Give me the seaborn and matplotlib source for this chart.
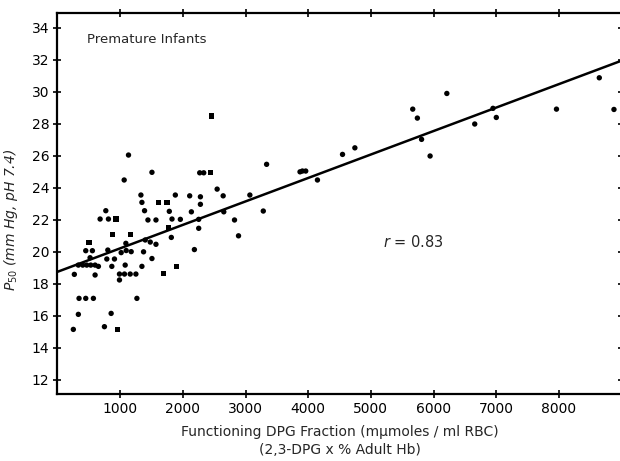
import matplotlib
matplotlib.use("Agg")
import matplotlib.pyplot as plt
import seaborn as sns
import pandas as pd

# ---- data ----
dpg = [1133, 1507, 1064, 1331, 1880, 1347, 1613, 1747, 771, 1389, 1784,
       680, 813, 936, 1443, 1571, 1827, 1960, 1768,
       877, 1160, 504, 1816, 1571, 1091, 1400, 1480, 451, 557, 803,
       1016, 1096, 1176, 1373, 520, 787, 909, 1507,
       333, 403, 467, 531, 600, 653, 867, 1080, 1347, 1896,
       269, 600, 989, 1069, 1160, 1251, 989, 1693,
       344, 451, 573, 1267, 333, 856, 253, 749, 957,
       2456, 2269, 2333, 2440, 3336, 3869, 2547, 2109, 2280, 2643, 3069,
       2280, 2136, 2653, 3283, 2253, 2253, 2824, 2888, 2184,
       5667, 5741, 6656, 5808, 5944, 4744, 4547, 3907, 3960, 4147,
       6211, 8643, 7000, 6947, 7960, 8877]
p50 = [26.04, 24.96, 24.48, 23.54, 23.54, 23.08, 23.08, 23.08, 22.56, 22.56, 22.52,
       22.04, 22.04, 22.04, 21.98, 21.98, 22.04, 22.02, 21.51,
       21.08, 21.08, 20.58, 20.89, 20.46, 20.52, 20.73, 20.60, 20.06, 20.06, 20.10,
       19.94, 20.07, 20.00, 19.99, 19.62, 19.54, 19.54, 19.57,
       19.16, 19.16, 19.16, 19.16, 19.16, 19.08, 19.08, 19.16, 19.08, 19.06,
       18.58, 18.54, 18.60, 18.60, 18.60, 18.60, 18.23, 18.64,
       17.08, 17.08, 17.08, 17.08, 16.08, 16.14, 15.14, 15.31, 15.14,
       28.49, 24.93, 24.93, 24.93, 25.46, 24.99, 23.91, 23.49, 23.43, 23.49, 23.54,
       22.96, 22.49, 22.49, 22.54, 22.02, 21.46, 21.98, 20.99, 20.13,
       28.91, 28.35, 27.98, 27.02, 25.98, 26.49, 26.08, 25.04, 25.04, 24.48,
       29.89, 30.87, 28.39, 28.96, 28.91, 28.89]
shape = ["c", "c", "c", "c", "c", "c", "s", "s", "c", "c", "c",
         "c", "c", "s", "c", "c", "c", "c", "s",
         "s", "s", "s", "c", "c", "c", "c", "c", "c", "c", "c",
         "c", "c", "c", "c", "c", "c", "c", "c",
         "c", "c", "c", "c", "c", "c", "c", "c", "c", "s",
         "c", "c", "c", "c", "c", "c", "c", "s",
         "c", "c", "c", "c", "c", "c", "c", "c", "s",
         "s", "c", "c", "s", "c", "c", "c", "c", "c", "c", "c",
         "c", "c", "c", "c", "c", "c", "c", "c", "c",
         "c", "c", "c", "c", "c", "c", "c", "c", "c", "c",
         "c", "c", "c", "c", "c", "c"]

fit_intercept = 18.74
fit_slope = 0.001467
line_x = [0, 9000]
line_y = [fit_intercept + fit_slope * v for v in line_x]

x_ticks = [1000, 2000, 3000, 4000, 5000, 6000, 7000, 8000]
y_ticks = [12, 14, 16, 18, 20, 22, 24, 26, 28, 30, 32, 34]

df = pd.DataFrame({"dpg": dpg, "p50": p50, "shape": shape})

sns.set_style("ticks")
plt.rcParams["font.family"] = ["DejaVu Sans"]

fig = plt.figure(figsize=(6.2, 4.61), dpi=100)
ax = fig.add_axes([0.0927, 0.1453, 0.9100, 0.8258])

sns.scatterplot(data=df, x="dpg", y="p50", style="shape",
                markers={"c": "o", "s": "s"}, color="black", s=15,
                linewidth=0, legend=False, ax=ax)
sns.lineplot(x=line_x, y=line_y, color="black", linewidth=1.8, ax=ax)

ax.set_xlim(0, 9000)
ax.set_ylim(11.1, 34.9)
ax.set_xticks(x_ticks)
ax.set_xticklabels([str(v) for v in x_ticks])
ax.set_yticks(y_ticks)
ax.set_yticklabels([str(v) for v in y_ticks])
ax.tick_params(direction="inout", length=6, width=1.2, top=True, right=True,
               labelsize=10, colors="black", pad=3)
for sp in ax.spines.values():
    sp.set_visible(True)
    sp.set_linewidth(1.6)
    sp.set_color("black")

ax.set_xlabel("Functioning DPG Fraction (m\u03bcmoles / ml RBC)\n(2,3-DPG x % Adult Hb)",
              fontsize=10, linespacing=1.4, labelpad=6)
ax.set_ylabel(r"$P_{50}$ (mm Hg, pH 7.4)", fontsize=10, style="italic")
ax.yaxis.set_label_coords(-0.067, 0.457)

ax.text(0.053, 0.93, "Premature Infants", transform=ax.transAxes,
        fontsize=9.5, ha="left", va="center")
ax.text(5200, 20.6, r"$r$ = 0.83", fontsize=10.5, ha="left", va="center")

fig.savefig("out.png", dpi=100)
